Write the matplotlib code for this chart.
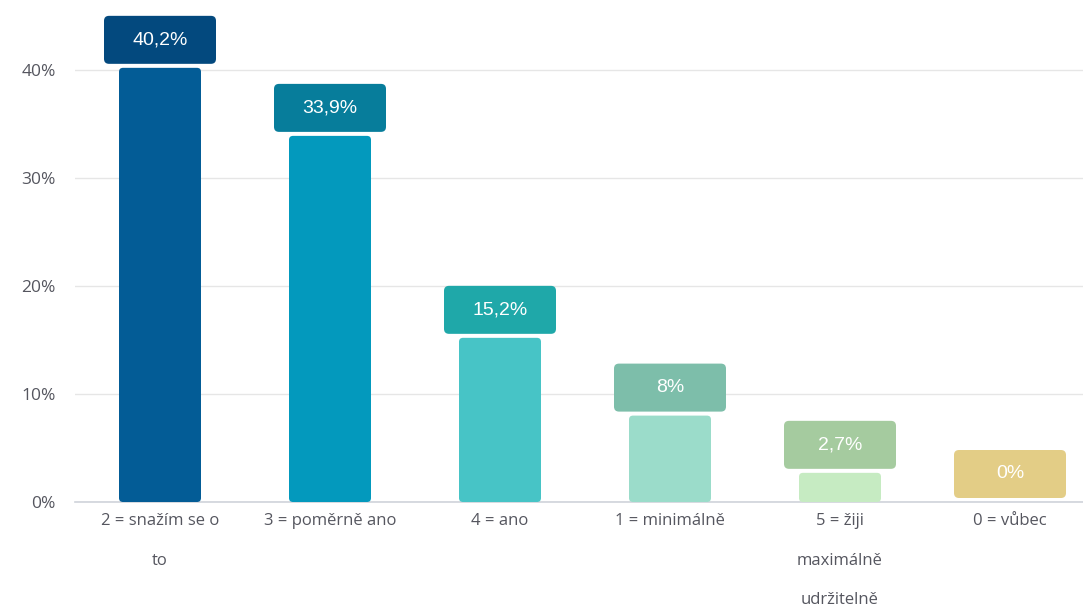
import matplotlib
matplotlib.use("Agg")
import matplotlib.pyplot as plt
from matplotlib.patches import FancyBboxPatch

categories = ["2 = snažím se o\nto", "3 = poměrně ano", "4 = ano", "1 = minimálně",
              "5 = žiji\nmaximálně\nudržitelně", "0 = vůbec"]
values = [40.2, 33.9, 15.2, 8.0, 2.7, 0.0]
value_labels = ["40,2%", "33,9%", "15,2%", "8%", "2,7%", "0%"]
bar_colors = ["#035c96", "#0399bd", "#47c4c6", "#9bdcca", "#c6ebc2", "#f0dc9a"]
box_colors = ["#03497e", "#077d9b", "#1fa8a9", "#7dbeaa", "#a5cb9f", "#e3cd86"]

fig = plt.figure(figsize=(10.83, 6.08), dpi=100)
ax = fig.add_axes([75 / 1083, 106 / 608, 1008 / 1083, 502 / 608])

x = list(range(len(categories)))
px_x = 1 / 170.0   # data units per pixel
px_y = 1 / 10.8
ax.set_xlim(-0.5, -0.5 + 1008 * px_x)
ax.set_ylim(0, 502 * px_y)

bars = ax.bar(x, values, width=82 * px_x, color=bar_colors)
aspect = px_y / px_x
for b, c in zip(bars, bar_colors):
    b.set_visible(False)
    if b.get_height() <= 0:
        continue
    ax.add_patch(FancyBboxPatch((b.get_x(), b.get_y()), b.get_width(), b.get_height(),
                                boxstyle="round,pad=0,rounding_size=%f" % (4 * px_x),
                                mutation_aspect=aspect, facecolor=c, edgecolor="none",
                                zorder=3))

# value label boxes
bw, bh = 112 * px_x, 48 * px_y
for xi, v, lab, c in zip(x, values, value_labels, box_colors):
    y0 = v + 4 * px_y
    ax.add_patch(FancyBboxPatch((xi - bw / 2, y0), bw, bh,
                                boxstyle="round,pad=0,rounding_size=%f" % (5 * px_x),
                                mutation_aspect=aspect, facecolor=c, edgecolor="none",
                                zorder=4, clip_on=False))
    ax.text(xi, y0 + bh / 2, lab, ha="center", va="center", color="white",
            fontsize=14, family="Liberation Sans", zorder=5)

ax.set_yticks([0, 10, 20, 30, 40])
ax.set_yticklabels(["0%", "10%", "20%", "30%", "40%"])
ax.set_xticks(x)
ax.set_xticklabels(categories, linespacing=2.95)
ax.tick_params(axis="both", length=0, labelsize=12, labelcolor="#55565f")
ax.tick_params(axis="y", pad=14, labelsize=12.5)
ax.tick_params(axis="x", pad=8)
for t in ax.get_xticklabels() + ax.get_yticklabels():
    t.set_family("Open Sans")

ax.grid(axis="y", color="#e6e6e6", linewidth=1)
ax.set_axisbelow(True)
for s in ["top", "right", "left"]:
    ax.spines[s].set_visible(False)
ax.spines["bottom"].set_color("#cfd3da")
ax.spines["bottom"].set_linewidth(1.2)

fig.savefig("out.png", dpi=100)
